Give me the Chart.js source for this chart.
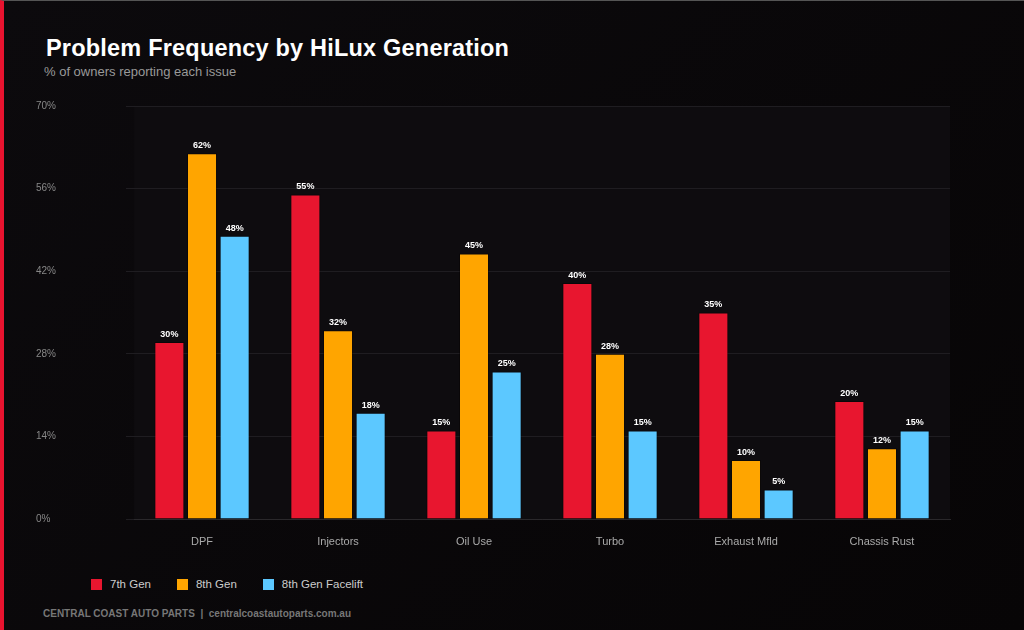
<!DOCTYPE html>
<html lang="en">
<head>
<meta charset="UTF-8">
<title>Problem Frequency by HiLux Generation</title>
<script src="https://cdn.jsdelivr.net/npm/chart.js"></script>
<style>
    body { margin: 0; width: 1024px; height: 630px; overflow: hidden; font-family: "Liberation Sans", Arial, sans-serif;
        background: linear-gradient(135deg, #0c0a0d 0%, #070506 100%); position: relative; }
    #frame { position: absolute; inset: 0; border-top: 1px solid #555; border-left: 4px solid #e8132f; pointer-events: none; z-index: 2; }
    h1 { position: absolute; left: 46px; top: 35px; margin: 0; color: #fff; font-size: 23.5px; font-weight: bold; letter-spacing: 0.2px; }
    #sub { position: absolute; left: 44px; top: 64px; color: #999; font-size: 13px; }
    #wrap { position: absolute; left: 0; top: 0; width: 1024px; height: 560px; }
    #legend { position: absolute; left: 91px; top: 578px; color: #ccc; font-size: 11.5px; display: flex; }
    #legend span { display: inline-flex; align-items: center; margin-right: 26px; }
    #legend i { width: 11px; height: 11px; display: inline-block; margin-right: 8px; }
    #foot { position: absolute; left: 43px; top: 608px; color: #777; font-size: 10px; font-weight: bold; }
</style>
</head>
<body>
<div id="frame"></div>
<h1>Problem Frequency by HiLux Generation</h1>
<div id="sub">% of owners reporting each issue</div>
<div id="wrap"><canvas id="chart" width="1024" height="560"></canvas></div>
<div id="legend"></div>
<div id="foot">CENTRAL COAST AUTO PARTS &nbsp;|&nbsp; centralcoastautoparts.com.au</div>
<script>
    const categories = ['DPF', 'Injectors', 'Oil Use', 'Turbo', 'Exhaust Mfld', 'Chassis Rust'];
    const gen7 = [30, 55, 15, 40, 35, 20];
    const gen8 = [62, 32, 45, 28, 10, 12];
    const gen8Facelift = [48, 18, 25, 15, 5, 15];
    const seriesNames = ['7th Gen', '8th Gen', '8th Gen Facelift'];
    const colors = ['#e8162f', '#ffa500', '#5cc8ff'];

    const plotBg = {
        id: 'plotBg',
        beforeDraw(chart) {
            const { ctx, chartArea: a } = chart;
            ctx.save();
            ctx.fillStyle = '#0e0c0f';
            ctx.fillRect(a.left, a.top, a.right - a.left, a.bottom - a.top);
            ctx.restore();
        }
    };

    const valueLabels = {
        id: 'valueLabels',
        afterDatasetsDraw(chart) {
            const ctx = chart.ctx;
            ctx.save();
            ctx.fillStyle = '#fff';
            ctx.font = 'bold 9px "Liberation Sans", Arial';
            ctx.textAlign = 'center';
            ctx.textBaseline = 'bottom';
            chart.data.datasets.forEach((ds, i) => {
                chart.getDatasetMeta(i).data.forEach((bar, j) => {
                    ctx.fillText(ds.data[j] + '%', bar.x, bar.y - 3);
                });
            });
            ctx.restore();
        }
    };

    const seriesData = [gen7, gen8, gen8Facelift];
    new Chart(document.getElementById('chart'), {
        type: 'bar',
        data: {
            labels: categories,
            datasets: seriesData.map((d, i) => ({
                label: seriesNames[i],
                data: d,
                backgroundColor: colors[i],
                borderColor: 'rgba(0,0,0,0.35)',
                borderWidth: 1,
                barPercentage: 0.92,
                categoryPercentage: 0.72
            }))
        },
        options: {
            responsive: false,
            animation: false,
            layout: { padding: { left: 36, right: 74, top: 106, bottom: 0 } },
            plugins: { legend: { display: false }, tooltip: { enabled: false } },
            scales: {
                x: {
                    grid: { display: false },
                    border: { color: '#2a282b' },
                    ticks: { color: '#aaa', font: { size: 11, family: '"Liberation Sans", Arial' }, padding: 8 }
                },
                y: {
                    min: 0, max: 70,
                    ticks: { stepSize: 14, color: '#888', font: { size: 10, family: '"Liberation Sans", Arial' },
                        callback: v => v + '%', crossAlign: 'far', padding: 35 },
                    grid: { color: '#1f1d21' },
                    border: { display: false }
                }
            }
        },
        plugins: [plotBg, valueLabels]
    });

    document.getElementById('legend').innerHTML = seriesNames.map((n, i) =>
        `<span><i style="background:${colors[i]}"></i>${n}</span>`).join('');
</script>
</body>
</html>
